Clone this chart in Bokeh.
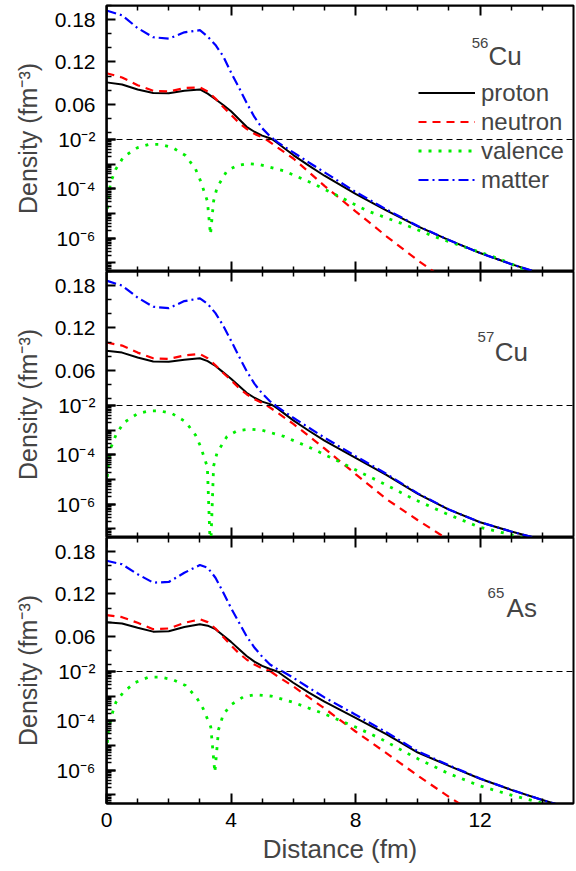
import math
from bokeh.plotting import figure
from bokeh.models import (Range1d, LinearAxis, LogAxis, LogScale, FixedTicker,
                          Span, Legend, LegendItem, Label)
from bokeh.layouts import column
from bokeh.embed import file_html
from bokeh.resources import INLINE

# ---------------- data (density in fm^-3) ----------------
X_BULK = [0, 0.5, 1, 1.5, 2, 2.5, 3, 3.25, 3.5, 3.75, 4, 4.25, 4.5, 4.75,
          5, 5.25, 5.5, 6, 6.5, 7, 8, 9, 10, 11, 12, 13, 14, 15]
X_NEUT = [0, 0.5, 1, 1.5, 2, 2.5, 3, 3.25, 3.5, 3.75, 4, 4.25, 4.5, 4.75,
          5, 5.25, 5.5, 6, 6.5, 7, 8, 9, 10, 11, 12]

cu56_proton = [0.091, 0.088, 0.081, 0.076, 0.0755, 0.079, 0.081, 0.075, 0.067, 0.059,
               0.050, 0.039, 0.028, 0.021, 0.0155, 0.0118, 7.1e-3, 2.34e-3, 8.7e-4,
               3.4e-4, 6.3e-5, 1.32e-5, 3.0e-6, 8.3e-7, 2.5e-7, 8.9e-8, 3.5e-8, 1.4e-8]
cu56_neutron = [0.104, 0.098, 0.087, 0.079, 0.078, 0.083, 0.084, 0.078, 0.068, 0.056,
                0.045, 0.034, 0.025, 0.018, 0.013, 7.9e-3, 4.7e-3, 1.7e-3, 4.8e-4,
                1.32e-4, 1.23e-5, 1.17e-6, 1.26e-7, 1.6e-8, 2.0e-9]
cu56_matter = [0.193, 0.186, 0.168, 0.155, 0.153, 0.162, 0.165, 0.156, 0.144, 0.128,
               0.105, 0.084, 0.062, 0.042, 0.026, 0.0145, 7.6e-3, 3.0e-3, 1.17e-3,
               4.7e-4, 7.5e-5, 1.44e-5, 3.1e-6, 8.4e-7, 2.5e-7, 8.9e-8, 3.5e-8, 1.4e-8]
cu56_val_x = [0.0, 0.05, 0.13, 0.3, 0.55, 1.0, 1.36, 1.74, 2.12, 2.54, 2.86, 3.02, 3.24,
              3.34, 3.44, 3.55, 3.87, 4.2, 4.53, 4.95, 5.7, 6.56, 7.3, 8.39, 9.45, 10.5,
              11.6, 12.66, 13.3, 14.0]
cu56_valence = [6.3e-6, 3.2e-5, 1.8e-4, 6.3e-4, 2.0e-3, 4.7e-3, 6.3e-3, 6.3e-3, 4.7e-3,
                2.24e-3, 6.3e-4, 2.1e-4, 3.2e-5, 1.4e-6, 3.2e-5, 1.12e-4, 5.4e-4, 8.9e-4,
                1.05e-3, 9.5e-4, 5.4e-4, 1.8e-4, 6.3e-5, 1.26e-5, 4.1e-6, 1.2e-6, 4.0e-7,
                1.38e-7, 6.3e-8, 2.8e-8]

cu57_proton = [0.0875, 0.085, 0.078, 0.0725, 0.072, 0.075, 0.077, 0.073, 0.066, 0.057,
               0.048, 0.038, 0.028, 0.021, 0.0155, 0.012, 7.5e-3, 2.5e-3, 9.5e-4,
               3.8e-4, 7.6e-5, 1.5e-5, 2.6e-6, 6.0e-7, 1.86e-7, 7.8e-8, 3.6e-8, 1.5e-8]
cu57_neutron = [0.0993, 0.095, 0.085, 0.077, 0.076, 0.081, 0.083, 0.077, 0.067, 0.056,
                0.046, 0.035, 0.026, 0.019, 0.0135, 8.3e-3, 5.0e-3, 1.8e-3, 5.8e-4,
                1.82e-4, 1.66e-5, 1.58e-6, 2.24e-7, 3.5e-8, 5.0e-9]
cu57_matter = [0.187, 0.180, 0.163, 0.150, 0.148, 0.158, 0.162, 0.154, 0.141, 0.123,
               0.102, 0.080, 0.059, 0.041, 0.027, 0.016, 8.5e-3, 3.2e-3, 1.26e-3,
               5.0e-4, 8.9e-5, 1.66e-5, 2.75e-6, 6.1e-7, 1.86e-7, 7.8e-8, 3.6e-8, 1.5e-8]
cu57_val_x = [0.0, 0.05, 0.13, 0.3, 0.55, 1.0, 1.36, 1.74, 2.12, 2.54, 2.86, 3.02, 3.24,
              3.34, 3.44, 3.55, 3.87, 4.2, 4.6, 5.0, 5.7, 6.56, 7.3, 8.39, 8.8, 9.87,
              10.96, 12.0, 13.1, 14.0]
cu57_valence = [5.0e-6, 3.2e-5, 1.8e-4, 6.3e-4, 2.0e-3, 4.7e-3, 6.0e-3, 6.0e-3, 4.6e-3,
                2.2e-3, 6.3e-4, 2.2e-4, 3.2e-5, 1.0e-8, 3.5e-5, 1.2e-4, 5.6e-4, 9.5e-4,
                1.1e-3, 1.0e-3, 5.6e-4, 1.9e-4, 6.8e-5, 1.4e-5, 7.9e-6, 1.6e-6, 3.9e-7,
                1.15e-7, 5.4e-8, 2.5e-8]

as65_proton = [0.080, 0.078, 0.072, 0.0665, 0.067, 0.073, 0.077, 0.075, 0.070, 0.061,
               0.052, 0.042, 0.032, 0.024, 0.018, 0.0135, 9.8e-3, 3.5e-3, 1.4e-3,
               6.0e-4, 1.32e-4, 2.8e-5, 5.2e-6, 1.5e-6, 4.5e-7, 1.6e-7, 6.2e-8, 2.6e-8]
as65_neutron = [0.090, 0.087, 0.079, 0.070, 0.071, 0.079, 0.084, 0.080, 0.071, 0.059,
                0.047, 0.036, 0.027, 0.020, 0.0145, 0.0105, 6.3e-3, 2.5e-3, 8.9e-4,
                3.2e-4, 3.7e-5, 4.8e-6, 6.0e-7, 8.3e-8, 1.26e-8]
as65_matter = [0.167, 0.162, 0.148, 0.136, 0.137, 0.150, 0.161, 0.157, 0.143, 0.122,
               0.100, 0.080, 0.060, 0.044, 0.031, 0.020, 0.013, 5.6e-3, 2.2e-3,
               8.9e-4, 1.78e-4, 3.4e-5, 5.8e-6, 1.58e-6, 4.6e-7, 1.6e-7, 6.2e-8, 2.6e-8]
as65_val_x = [0.0, 0.05, 0.16, 0.3, 0.55, 0.93, 1.35, 1.74, 2.12, 2.54, 2.89, 3.1, 3.35,
              3.48, 3.6, 3.75, 4.0, 4.4, 4.8, 5.3, 6.0, 7.0, 8.0, 8.8, 9.87, 10.96,
              12.0, 13.08, 14.2, 15.0]
as65_valence = [5.0e-6, 3.2e-5, 1.6e-4, 5.6e-4, 1.5e-3, 3.6e-3, 5.9e-3, 5.9e-3, 4.7e-3,
                2.7e-3, 8.9e-4, 3.2e-4, 5.6e-5, 8.0e-7, 4.5e-5, 1.8e-4, 4.5e-4, 9.5e-4,
                1.15e-3, 1.0e-3, 5.6e-4, 1.9e-4, 5.6e-5, 1.9e-5, 3.5e-6, 7.6e-7, 2.3e-7,
                9.1e-8, 4.0e-8, 2.0e-8]

nuclide_mass = ["56", "57", "65"]
nuclide_symbol = ["Cu", "Cu", "As"]
series_names = ["proton", "neutron", "valence", "matter"]

# tick values / labels
X_TICKS = [0, 4, 8, 12]
X_MINOR = [1, 2, 3, 5, 6, 7, 9, 10, 11, 13, 14]
LIN_TICKS = [0.06, 0.12, 0.18]
LIN_LABELS = ["0.06", "0.12", "0.18"]
LIN_MINOR = [0.02, 0.04, 0.08, 0.10, 0.14, 0.16, 0.20]
LOG_TICKS = [1e-2, 1e-3, 1e-4, 1e-5, 1e-6, 1e-7]
LOG_LABELED = [1e-2, 1e-4, 1e-6]
LOG_LABELS = ["10⁻²", "10⁻⁴", "10⁻⁶"]

# ---------------- layout / style ----------------
FONT = "Liberation Sans"
FRAME_W = 467
UP_H = 134          # pixels of the linear (upper) part
LO_H = 132          # pixels of the log (lower) part
FRAME_H = UP_H + LO_H
LIN_TOP, SPLIT = 0.20, 0.01
LOG_BOT_EXP = -7.35

lin_per_px = (LIN_TOP - SPLIT) / UP_H
lin_lo = LIN_TOP - lin_per_px * FRAME_H
dec_per_px = (math.log10(SPLIT) - LOG_BOT_EXP) / LO_H
log_hi_exp = LOG_BOT_EXP + dec_per_px * FRAME_H


def lin_position_of(v):
    """Position on the (frame-wide) linear range that shares a pixel with log value v."""
    return SPLIT - (math.log10(SPLIT) - math.log10(v)) / dec_per_px * lin_per_px


LOG_MINOR = [k * 10.0 ** n for n in range(-8, -2) for k in range(2, 10)
             if k * 10.0 ** n < SPLIT]

STYLES = {
    "proton": dict(line_color="black", line_width=2),
    "neutron": dict(line_color="#ff0000", line_width=2.2, line_dash="8 6"),
    "valence": dict(line_color="#00ee00", line_width=2.8, line_dash="3 7"),
    "matter": dict(line_color="#0000ff", line_width=2.2, line_dash="10 4 2 4"),
}

LABEL_POS = [  # (sup_x, sup_y, base_x, base_y) in fm / linear density
    (11.73, 0.1475, 12.27, 0.1277),
    (11.92, 0.1078, 12.47, 0.0865),
    (12.24, 0.1220, 12.85, 0.1007),
]


def split_series(xs, vs, thr=SPLIT):
    """Split a curve into pieces above (linear part) and below (log part) thr."""
    up, lo = [], []
    cur = None
    seg_x, seg_y = [], []
    for i, (x, v) in enumerate(zip(xs, vs)):
        reg = "up" if v >= thr else "lo"
        if cur is None:
            cur = reg
        elif reg != cur:
            x0, v0 = xs[i - 1], vs[i - 1]
            t = (math.log10(thr) - math.log10(v0)) / (math.log10(v) - math.log10(v0))
            xc = x0 + t * (x - x0)
            seg_x.append(xc); seg_y.append(thr)
            (up if cur == "up" else lo).append((seg_x, seg_y))
            seg_x, seg_y = [xc], [thr]
            cur = reg
        seg_x.append(x); seg_y.append(v)
    if seg_x:
        (up if cur == "up" else lo).append((seg_x, seg_y))
    return up, lo


def style_axis(ax, major_in, minor_in):
    ax.axis_line_width = 2
    ax.axis_line_color = "black"
    ax.major_tick_in = major_in
    ax.major_tick_out = 0
    ax.minor_tick_in = minor_in
    ax.minor_tick_out = 0
    ax.major_tick_line_width = 2
    ax.minor_tick_line_width = 1.5
    ax.major_tick_line_color = "black"
    ax.minor_tick_line_color = "black"
    ax.major_label_text_font = FONT
    ax.major_label_text_font_size = "21px"
    ax.major_label_text_color = "black"


def make_panel(i, curves, show_legend, show_xlabels):
    p = figure(frame_width=FRAME_W, frame_height=FRAME_H,
               x_range=Range1d(0, 15), y_range=Range1d(lin_lo, LIN_TOP),
               x_axis_location=None, y_axis_location="left",
               output_backend="svg", toolbar_location=None,
               min_border_left=106, min_border_right=2,
               min_border_top=(5 if i == 0 else 0),
               min_border_bottom=(64 if show_xlabels else 0),
               background_fill_color="white", border_fill_color="white",
               outline_line_color="black", outline_line_width=2)
    p.extra_y_ranges = {"log": Range1d(10 ** LOG_BOT_EXP, 10 ** log_hi_exp)}
    p.extra_y_scales = {"log": LogScale()}
    p.grid.visible = False

    # left axis: linear ticks for the upper part + labels for the log part
    log_label_pos = [lin_position_of(v) for v in LOG_LABELED]
    ya = p.yaxis[0]
    ya.ticker = FixedTicker(ticks=LIN_TICKS + log_label_pos, minor_ticks=LIN_MINOR)
    overrides = dict(zip(LIN_TICKS, LIN_LABELS))
    overrides.update(dict(zip(log_label_pos, LOG_LABELS)))
    ya.major_label_overrides = overrides
    style_axis(ya, 9, 5)
    ya.major_label_standoff = 11
    ya.axis_label = "Density (fm⁻³)"
    ya.axis_label_text_font = FONT
    ya.axis_label_text_font_size = "25px"
    ya.axis_label_text_font_style = "normal"
    ya.axis_label_standoff = 10

    # log ticks of the lower part (on the log scale), drawn on the frame edge
    la = LogAxis(y_range_name="log", fixed_location=0,
                 ticker=FixedTicker(ticks=LOG_TICKS, minor_ticks=LOG_MINOR),
                 major_label_overrides={t: "" for t in LOG_TICKS})
    style_axis(la, 9, 5)
    p.add_layout(la, "left")

    # top axis (ticks only)
    ta = LinearAxis(fixed_location=LIN_TOP,
                    ticker=FixedTicker(ticks=X_TICKS, minor_ticks=X_MINOR),
                    major_label_overrides={t: "" for t in X_TICKS})
    style_axis(ta, 10, 5)
    p.add_layout(ta, "above")

    if show_xlabels:
        xa = LinearAxis(ticker=FixedTicker(ticks=X_TICKS, minor_ticks=X_MINOR))
        style_axis(xa, 10, 5)
        xa.major_label_standoff = 9
        xa.axis_label = "Distance (fm)"
        xa.axis_label_text_font = FONT
        xa.axis_label_text_font_size = "26px"
        xa.axis_label_text_font_style = "normal"
        xa.axis_label_standoff = 4
        p.add_layout(xa, "below")
    else:
        ba = LinearAxis(fixed_location=lin_lo,
                        ticker=FixedTicker(ticks=X_TICKS, minor_ticks=X_MINOR),
                        major_label_overrides={t: "" for t in X_TICKS})
        style_axis(ba, 10, 5)
        p.add_layout(ba, "below")

    p.add_layout(Span(location=SPLIT, dimension="width", line_color="black",
                      line_width=1, line_dash="6 4"))

    renderers = {}
    for name in ["proton", "neutron", "valence", "matter"]:
        xs, vs = curves[name]
        up, lo = split_series(xs, vs)
        st = STYLES[name]
        r_up = p.multi_line(xs=[s[0] for s in up], ys=[s[1] for s in up], **st)
        r_lo = p.multi_line(xs=[s[0] for s in lo], ys=[s[1] for s in lo],
                            y_range_name="log", **st)
        renderers[name] = r_up if up else r_lo

    if show_legend:
        legend = Legend(items=[LegendItem(label=n, renderers=[renderers[n]])
                               for n in series_names],
                        location=(312, 77), orientation="vertical",
                        glyph_width=57, glyph_height=29, label_height=29,
                        label_standoff=6, spacing=0, padding=0, margin=0,
                        border_line_alpha=0, background_fill_alpha=0,
                        label_text_font=FONT, label_text_font_size="24px")
        p.add_layout(legend)

    sx, sy, bx, by = LABEL_POS[i]
    p.add_layout(Label(x=sx, y=sy, text=nuclide_mass[i], text_font=FONT,
                       text_font_size="15px", text_baseline="alphabetic"))
    p.add_layout(Label(x=bx, y=by, text=nuclide_symbol[i], text_font=FONT,
                       text_font_size="26px", text_baseline="alphabetic"))
    return p


panels_data = [
    {"proton": (X_BULK, cu56_proton), "neutron": (X_NEUT, cu56_neutron),
     "valence": (cu56_val_x, cu56_valence), "matter": (X_BULK, cu56_matter)},
    {"proton": (X_BULK, cu57_proton), "neutron": (X_NEUT, cu57_neutron),
     "valence": (cu57_val_x, cu57_valence), "matter": (X_BULK, cu57_matter)},
    {"proton": (X_BULK, as65_proton), "neutron": (X_NEUT, as65_neutron),
     "valence": (as65_val_x, as65_valence), "matter": (X_BULK, as65_matter)},
]

figs = [make_panel(i, panels_data[i], show_legend=(i == 0), show_xlabels=(i == 2))
        for i in range(3)]
layout = column(*figs, spacing=0)

open("out.html", "w").write(file_html(layout, INLINE))
